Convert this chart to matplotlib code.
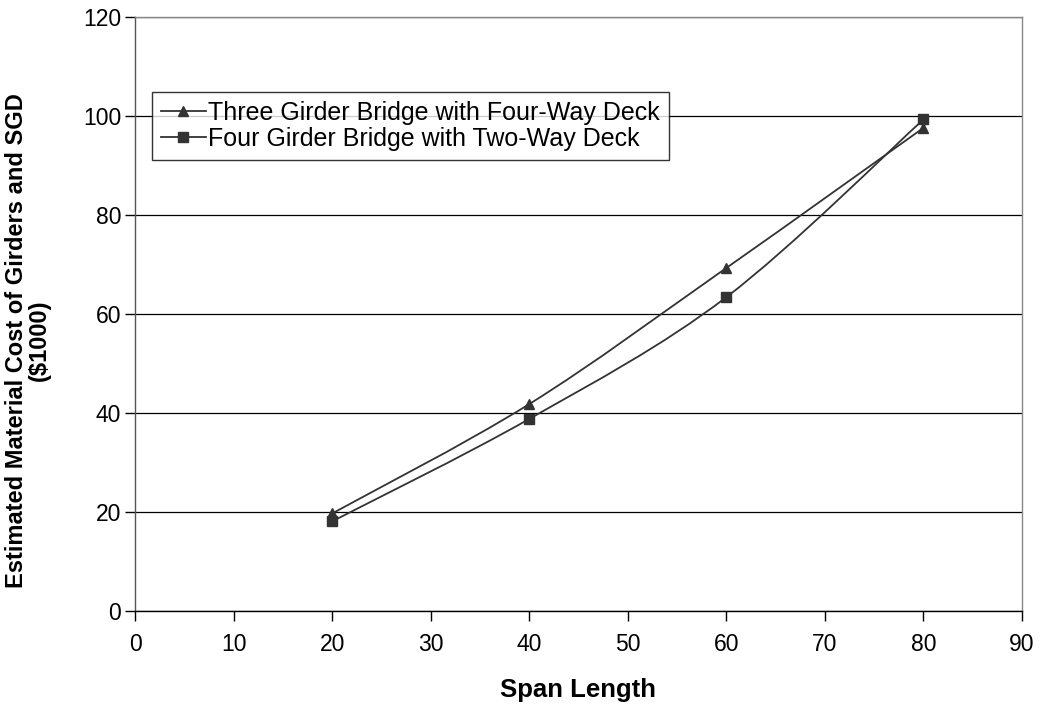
import numpy as np
import matplotlib
matplotlib.use("Agg")
import matplotlib.pyplot as plt
from matplotlib.path import Path
from matplotlib.patches import PathPatch
from matplotlib.lines import Line2D

plt.rcParams['font.family'] = ['Liberation Sans', 'DejaVu Sans']

span = [20, 40, 60, 80]
three_girder = [19.7, 41.8, 69.3, 97.6]
four_girder = [18.1, 38.8, 63.4, 99.3]
labels = ['Three Girder Bridge with Four-Way Deck',
          'Four Girder Bridge with Two-Way Deck']


def smooth_path(x, y):
    # Excel-style smoothed line: cubic bezier through the points
    pts = np.column_stack([x, y]).astype(float)
    verts = [pts[0]]
    codes = [Path.MOVETO]
    n = len(pts)
    for i in range(n - 1):
        p0 = pts[i - 1] if i > 0 else pts[i]
        p1 = pts[i]
        p2 = pts[i + 1]
        p3 = pts[i + 2] if i + 2 < n else pts[i + 1]
        c1 = p1 + (p2 - p0) / 6.0
        c2 = p2 - (p3 - p1) / 6.0
        verts += [c1, c2, p2]
        codes += [Path.CURVE4] * 3
    return Path(verts, codes)


fig = plt.figure(figsize=(10.41, 7.05), dpi=100)
ax = fig.add_axes([135 / 1041, 1 - 611 / 705, (1022 - 135) / 1041, (611 - 17) / 705])

for yv, marker in [(three_girder, '^'), (four_girder, 's')]:
    patch = PathPatch(smooth_path(span, yv), facecolor='none', edgecolor='#333333', lw=1.3, zorder=3)
    ax.add_patch(patch)
    ax.plot(span, yv, linestyle='none', marker=marker, color='#333333', ms=7, zorder=4)

ax.set_xlim(0, 90)
ax.set_ylim(0, 120)
ax.set_xticks(range(0, 91, 10))
ax.set_yticks(range(0, 121, 20))
ax.grid(axis='y', color='black', lw=0.9)
ax.set_axisbelow(True)

ax.spines['left'].set_color('#555555')
ax.spines['bottom'].set_color('black')
ax.spines['top'].set_color('#888888')
ax.spines['right'].set_color('#888888')
for s in ax.spines.values():
    s.set_linewidth(1.0)
ax.tick_params(axis='both', direction='out', length=7, width=1, labelsize=16.5)
ax.tick_params(axis='x', pad=9)
ax.tick_params(axis='y', pad=3)

ax.set_xlabel('Span Length', fontsize=18.5, fontweight='bold', labelpad=16)
ax.set_ylabel('Estimated Material Cost of Girders and SGD\n($1000)', fontsize=17,
              fontweight='bold', linespacing=1.0)
ax.yaxis.set_label_coords(-0.095, 0.455)

handles = [Line2D([], [], color='#333333', marker='^', ms=7, lw=1.3),
           Line2D([], [], color='#333333', marker='s', ms=7, lw=1.3)]
leg = ax.legend(handles, labels, loc='upper left', bbox_to_anchor=(0.019, 0.874),
                fontsize=18, frameon=True, fancybox=False, edgecolor='black',
                handlelength=1.8, handletextpad=0.1, borderpad=0.35, labelspacing=0.1,
                borderaxespad=0)
leg.get_frame().set_linewidth(1.0)

fig.savefig('out.png', dpi=100)
